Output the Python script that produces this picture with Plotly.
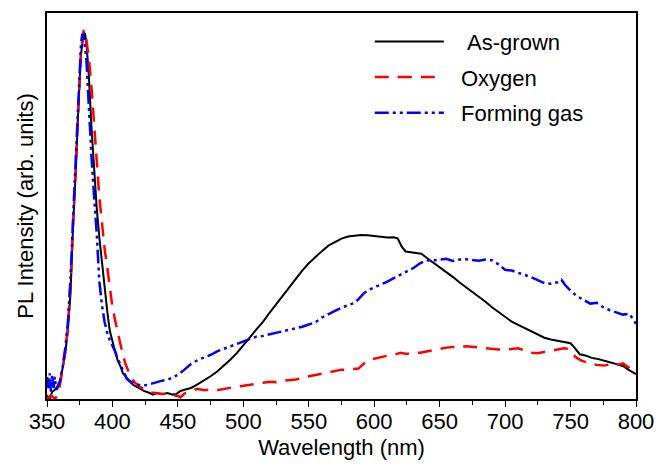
import plotly.graph_objects as go

# ---------------- data ----------------
wl_asgrown = [350, 352, 354, 356, 358, 360, 362, 364, 366, 368, 370, 372, 374, 376, 378, 379, 380, 382, 384, 386,
              388, 390, 392, 394, 396, 398, 400, 402, 404, 406, 408, 410, 413, 416, 420, 424, 428, 431, 434, 438,
              442, 446, 449, 452, 455, 460, 465, 470, 475, 480, 485, 490, 495, 500, 505, 510, 515, 520, 525, 530,
              535, 540, 545, 550, 555, 560, 565, 570, 575, 580, 585, 590, 595, 600, 605, 610, 615, 618, 621, 624,
              628, 632, 636, 640, 645, 650, 655, 660, 665, 670, 675, 680, 685, 690, 695, 700, 705, 710, 715, 720,
              725, 730, 735, 740, 745, 750, 753, 757, 762, 766, 770, 775, 780, 785, 790, 795, 800]
pl_asgrown = [0.01, 0.0, 0.02, 0.025, 0.035, 0.05, 0.085, 0.125, 0.19, 0.29, 0.48, 0.62, 0.80, 0.94, 1.00, 0.995, 0.975, 0.88, 0.74, 0.62,
              0.52, 0.44, 0.37, 0.30, 0.24, 0.185, 0.155, 0.13, 0.105, 0.09, 0.07, 0.06, 0.048, 0.038, 0.03, 0.022, 0.017, 0.012, 0.016, 0.013,
              0.016, 0.012, 0.014, 0.022, 0.025, 0.03, 0.04, 0.05, 0.062, 0.075, 0.09, 0.107, 0.125, 0.145, 0.168, 0.19, 0.21, 0.235, 0.258, 0.28,
              0.305, 0.328, 0.35, 0.37, 0.387, 0.403, 0.418, 0.428, 0.437, 0.443, 0.446, 0.447, 0.446, 0.445, 0.442, 0.44, 0.441, 0.437, 0.415, 0.402,
              0.40, 0.399, 0.396, 0.385, 0.372, 0.36, 0.348, 0.333, 0.318, 0.305, 0.29, 0.279, 0.265, 0.25, 0.237, 0.224, 0.211, 0.202, 0.193, 0.183,
              0.175, 0.167, 0.162, 0.159, 0.157, 0.152, 0.14, 0.122, 0.118, 0.112, 0.11, 0.104, 0.1, 0.095, 0.09, 0.078, 0.068]

wl_oxygen = [350, 353, 356, 358, 360, 362, 364, 366, 368, 370, 372, 374, 376, 378, 379, 380, 382, 384, 386, 388,
             390, 392, 394, 396, 398, 400, 402, 404, 406, 408, 410, 412, 414, 417, 421, 425, 430, 435, 440, 445,
             450, 452, 455, 460, 465, 470, 475, 480, 485, 490, 495, 500, 505, 510, 515, 520, 525, 530, 535, 540,
             545, 550, 555, 560, 565, 570, 575, 580, 585, 588, 591, 594, 598, 602, 606, 610, 615, 620, 625, 630,
             635, 640, 645, 650, 655, 660, 665, 670, 675, 680, 685, 690, 695, 700, 705, 710, 715, 720, 725, 730,
             735, 740, 745, 748, 751, 754, 758, 762, 766, 770, 775, 780, 785, 790, 795, 798, 800]
pl_oxygen = [0.0, 0.01, 0.0, 0.01, 0.04, 0.08, 0.13, 0.20, 0.32, 0.48, 0.64, 0.81, 0.95, 1.005, 1.0, 0.98, 0.93, 0.85, 0.76, 0.65,
             0.55, 0.47, 0.41, 0.36, 0.30, 0.25, 0.215, 0.18, 0.145, 0.12, 0.095, 0.075, 0.06, 0.045, 0.033, 0.025, 0.018, 0.015, 0.014, 0.012,
             0.008, 0.005, 0.015, 0.022, 0.028, 0.024, 0.026, 0.024, 0.028, 0.032, 0.034, 0.036, 0.038, 0.041, 0.044, 0.047, 0.046, 0.05, 0.052, 0.053,
             0.058, 0.062, 0.065, 0.07, 0.072, 0.078, 0.08, 0.08, 0.081, 0.083, 0.093, 0.102, 0.108, 0.112, 0.115, 0.118, 0.12, 0.126, 0.123, 0.127,
             0.126, 0.13, 0.133, 0.136, 0.14, 0.142, 0.14, 0.144, 0.142, 0.14, 0.14, 0.137, 0.135, 0.135, 0.137, 0.138, 0.132, 0.126, 0.125, 0.128,
             0.13, 0.135, 0.138, 0.137, 0.125, 0.114, 0.105, 0.099, 0.095, 0.093, 0.091, 0.094, 0.092, 0.097, 0.085, 0.077, 0.075]

wl_forming = [350, 351, 352, 353, 354, 355, 356, 357, 358, 360, 362, 364, 366, 368, 370, 372, 374, 376, 377, 378,
              380, 382, 384, 386, 388, 390, 392, 394, 396, 398, 400, 402, 404, 406, 408, 411, 414, 418, 422, 426,
              430, 434, 438, 442, 446, 450, 455, 460, 465, 470, 475, 480, 485, 490, 495, 500, 505, 510, 515, 520,
              525, 530, 535, 540, 545, 550, 555, 560, 565, 570, 575, 580, 585, 588, 592, 596, 600, 605, 610, 615,
              620, 625, 630, 635, 640, 645, 650, 655, 660, 665, 670, 675, 680, 685, 690, 695, 700, 705, 710, 715,
              720, 725, 730, 735, 740, 743, 746, 750, 755, 760, 765, 770, 775, 780, 785, 790, 795, 798, 800]
pl_forming = [0.06, 0.03, 0.07, 0.02, 0.065, 0.03, 0.06, 0.025, 0.03, 0.05, 0.09, 0.14, 0.21, 0.33, 0.50, 0.67, 0.84, 0.97, 0.995, 0.99,
              0.93, 0.79, 0.66, 0.55, 0.45, 0.32, 0.255, 0.21, 0.18, 0.16, 0.145, 0.13, 0.11, 0.095, 0.08, 0.055, 0.047, 0.04, 0.037, 0.038,
              0.042, 0.047, 0.05, 0.052, 0.06, 0.066, 0.08, 0.095, 0.106, 0.113, 0.12, 0.13, 0.137, 0.143, 0.15, 0.158, 0.163, 0.17, 0.172, 0.176,
              0.18, 0.183, 0.189, 0.192, 0.197, 0.203, 0.209, 0.222, 0.232, 0.24, 0.249, 0.255, 0.262, 0.272, 0.288, 0.298, 0.305, 0.312, 0.32, 0.33,
              0.338, 0.348, 0.357, 0.37, 0.378, 0.377, 0.38, 0.382, 0.376, 0.38, 0.381, 0.378, 0.377, 0.38, 0.378, 0.367, 0.352, 0.35, 0.343, 0.338,
              0.332, 0.325, 0.316, 0.314, 0.318, 0.325, 0.31, 0.295, 0.28, 0.27, 0.26, 0.262, 0.25, 0.242, 0.235, 0.23, 0.232, 0.215, 0.205]

series_names = ["As-grown", "Oxygen", "Forming gas"]
x_ticks = [350, 400, 450, 500, 550, 600, 650, 700, 750, 800]

FONT = "Liberation Sans, Arial, sans-serif"
NB = "\u00a0"

fig = go.Figure()
fig.add_trace(go.Scatter(x=wl_asgrown, y=pl_asgrown, mode="lines", name=NB * 3 + series_names[0],
                         legendgroup="a", line=dict(color="black", width=2)))
fig.add_trace(go.Scatter(x=wl_oxygen, y=pl_oxygen, mode="lines", name=NB * 2 + series_names[1],
                         legendgroup="b", line=dict(color="#ff0000", width=2.5, dash="14px,9px")))
fig.add_trace(go.Scatter(x=wl_forming, y=pl_forming, mode="lines", name=NB * 2 + series_names[2],
                         legendgroup="c", line=dict(color="#0000ff", width=2.5, dash="14px,4px,3px,4px,3px,4px")))

# page body has an 8px margin: figure is sized/positioned to compensate
fig.update_layout(
    width=655, height=458,
    margin=dict(l=39, r=27, t=3, b=67),
    paper_bgcolor="white", plot_bgcolor="white",
    font=dict(family=FONT, color="black", size=22),
    showlegend=True,
    legend=dict(x=0.548, y=0.98, xanchor="left", yanchor="top",
                bgcolor="rgba(0,0,0,0)", font=dict(size=22, family=FONT),
                itemwidth=69, traceorder="grouped", tracegroupgap=4),
)
fig.update_xaxes(range=[350, 800], tickvals=x_ticks, ticktext=[str(v) for v in x_ticks],
                 showgrid=False, zeroline=False, showline=True, linecolor="black", linewidth=1.5,
                 mirror=True, ticks="outside", ticklen=6, tickwidth=1.2, tickcolor="black",
                 tickfont=dict(size=22, family=FONT), ticklabelstandoff=-4,
                 minor=dict(dtick=25, tick0=350, ticks="outside", ticklen=4, tickwidth=1.2, tickcolor="black"),
                 title=dict(text="Wavelength (nm)", font=dict(size=22, family=FONT), standoff=6))
fig.update_yaxes(range=[0, 1.052], showticklabels=False, ticks="", showgrid=False, zeroline=False,
                 showline=True, linecolor="black", linewidth=1.5, mirror=True,
                 title=dict(text="PL Intensity (arb. units)", font=dict(size=22, family=FONT), standoff=6))

fig.write_html("out.html")
